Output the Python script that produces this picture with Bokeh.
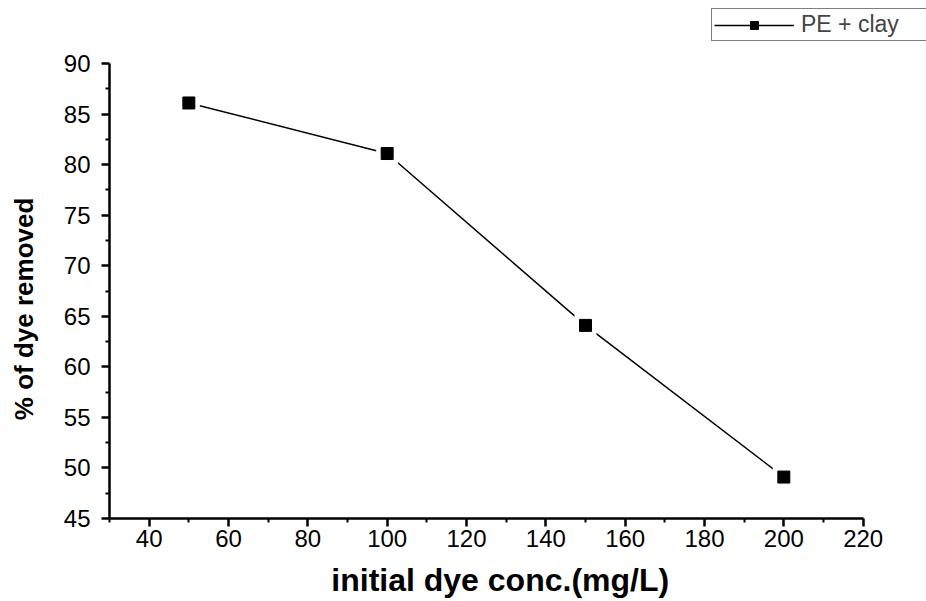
from bokeh.plotting import figure
from bokeh.models import Range1d, FixedTicker, Legend, LegendItem
from bokeh.embed import file_html
from bokeh.resources import INLINE

conc = [50, 100, 150, 200]
removed = [86.1, 81.1, 64.1, 49.1]
series_name = "PE + clay"
x_ticks = [40, 60, 80, 100, 120, 140, 160, 180, 200, 220]
x_minor = [30, 50, 70, 90, 110, 130, 150, 170, 190, 210]
y_ticks = [45, 50, 55, 60, 65, 70, 75, 80, 85, 90]
y_minor = [47.5, 52.5, 57.5, 62.5, 67.5, 72.5, 77.5, 82.5, 87.5]
x_title = "initial dye conc.(mg/L)"
y_title = "% of dye removed"

FONT = "Liberation Sans"
NB = "\u00a0"

p = figure(width=926, height=601, output_backend="svg", toolbar_location=None,
           x_range=Range1d(30, 235.97), y_range=Range1d(45, 95.74),
           min_border_left=109, min_border_right=0, min_border_top=5, min_border_bottom=83)
p.outline_line_color = None
p.grid.visible = False
p.background_fill_color = "white"
p.border_fill_color = "white"

ln = p.line(conc, removed, line_color="black", line_width=1.5)
p.scatter(conc, removed, marker="square", size=22, fill_color="white", line_color=None)
mk = p.scatter(conc, removed, marker="square", size=12, fill_color="black", line_color="black")

p.xaxis.bounds = (30, 220)
p.yaxis.bounds = (45, 90)
p.xaxis.ticker = FixedTicker(ticks=x_ticks, minor_ticks=x_minor)
p.yaxis.ticker = FixedTicker(ticks=y_ticks, minor_ticks=y_minor)

for ax in (p.xaxis[0], p.yaxis[0]):
    ax.axis_line_width = 2.5
    ax.major_tick_line_width = 2.5
    ax.minor_tick_line_width = 2
    ax.major_tick_out = 8
    ax.major_tick_in = 0
    ax.minor_tick_out = 4
    ax.minor_tick_in = 0
    ax.major_label_text_font = FONT
    ax.major_label_text_font_size = "24px"
    ax.major_label_text_color = "black"
    ax.axis_label_text_font = FONT
    ax.axis_label_text_font_style = "bold"
    ax.axis_label_text_color = "black"

# trailing no-break spaces re-centre the titles on the drawn axis spans
p.xaxis.axis_label = x_title + NB * 4
p.yaxis.axis_label = y_title + NB * 13
p.xaxis.axis_label_text_font_size = "32px"
p.yaxis.axis_label_text_font_size = "26px"
p.xaxis.major_label_standoff = 3
p.yaxis.major_label_standoff = 11
p.xaxis.axis_label_standoff = 12
p.yaxis.axis_label_standoff = 22

legend = Legend(items=[LegendItem(label=series_name, renderers=[ln, mk])],
                location=(602, 477), orientation="vertical",
                border_line_color="black", border_line_width=1,
                background_fill_color="white", background_fill_alpha=1,
                label_text_font=FONT, label_text_font_size="23px",
                glyph_width=80, glyph_height=20, padding=2, spacing=0,
                margin=0, label_standoff=7, label_width=140, label_height=22)
p.add_layout(legend, "center")

open("out.html", "w").write(file_html(p, INLINE))
